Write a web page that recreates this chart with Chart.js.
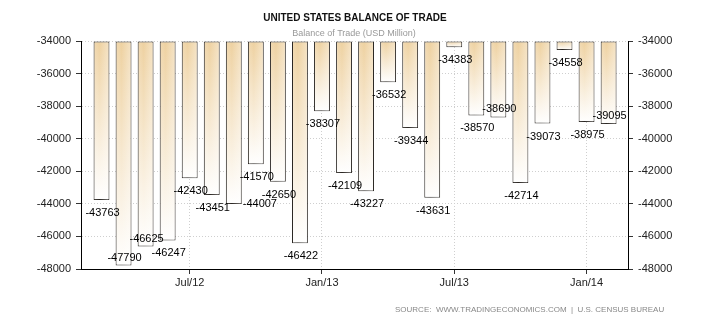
<!DOCTYPE html>
<html>
<head>
<meta charset="utf-8">
<script src="https://cdn.jsdelivr.net/npm/chart.js@4/dist/chart.umd.min.js"></script>
<style>
  body { margin: 0; background: #fff; }
  canvas { display: block; }
</style>
</head>
<body>
<canvas id="canvas" width="710" height="325"></canvas>
<script>
// months shown as bars (one per month)
var months = ['Mar/12','Apr/12','May/12','Jun/12','Jul/12','Aug/12','Sep/12','Oct/12','Nov/12','Dec/12',
              'Jan/13','Feb/13','Mar/13','Apr/13','May/13','Jun/13','Jul/13','Aug/13','Sep/13','Oct/13',
              'Nov/13','Dec/13','Jan/14','Feb/14'];
// balance of trade, USD million
var balance = [-43763,-47790,-46625,-46247,-42430,-43451,-44007,-41570,-42650,-46422,
               -38307,-42109,-43227,-36532,-39344,-43631,-34383,-38570,-38690,-42714,
               -39073,-34558,-38975,-39095];
// y axis range and tick step
var yMin = -48000;
var yMax = -34000;
var yStep = 2000;

var title = 'UNITED STATES BALANCE OF TRADE';
var subtitle = 'Balance of Trade (USD Million)';
var source = 'SOURCE:  WWW.TRADINGECONOMICS.COM  |  U.S. CENSUS BUREAU';

var FONT = '"Liberation Sans", Arial, sans-serif';

// where the value label sits for bars that would collide
var labelPlace = {1: 'over', 2: 'over', 6: 'right', 18: 'over', 23: 'over'};

// bar fill: tan at the top fading to white at the bar end
var barFill = (ctx) => {
    var chart = ctx.chart;
    if (!chart.chartArea || !chart.scales.y) return '#f0d8aa';
    var y = chart.scales.y;
    var top = y.getPixelForValue(yMax);
    var bottom = y.getPixelForValue(ctx.raw.y);
    if (bottom - top < 2) bottom = top + 2;
    var g = chart.ctx.createLinearGradient(0, top, 0, bottom);
    g.addColorStop(0, '#eed1a0');
    g.addColorStop(1, '#ffffff');
    return g;
};

var textPlugin = {
    id: 'texts',
    beforeDraw(chart) {
        var c = chart.ctx;
        c.save();
        c.fillStyle = '#fff';
        c.fillRect(0, 0, chart.width, chart.height);
        c.restore();
    },
    afterDatasetsDraw(chart) {
        var c = chart.ctx;
        var meta = chart.getDatasetMeta(0);
        c.save();
        // light sheen on the right side of each bar
        meta.data.forEach((bar) => {
            var l = bar.x - bar.width / 2 + 1, r = bar.x + bar.width / 2 - 1;
            var h = bar.y - bar.base - 1;
            if (h < 2 || r <= l) return;
            var g = c.createLinearGradient(l, 0, r, 0);
            g.addColorStop(0, 'rgba(255,255,255,0.15)');
            g.addColorStop(0.35, 'rgba(255,255,255,0)');
            g.addColorStop(1, 'rgba(255,255,255,0.35)');
            c.fillStyle = g;
            c.fillRect(l, bar.base + 1, r - l, h);
        });
        c.font = '11px ' + FONT;
        c.fillStyle = '#000';
        c.textBaseline = 'middle';
        meta.data.forEach((bar, i) => {
            var txt = String(balance[i]);
            var mode = labelPlace[i] || 'below';
            if (mode == 'right') {
                c.textAlign = 'left';
                c.fillText(txt, bar.x + bar.width / 2 + 1, bar.y);
            } else if (mode == 'over') {
                c.textAlign = 'center';
                c.fillText(txt, bar.x + 1, bar.y - 8);
            } else {
                c.textAlign = 'center';
                c.fillText(txt, bar.x + 1, bar.y + 13);
            }
        });
        c.restore();
    },
    afterDraw(chart) {
        var c = chart.ctx;
        c.save();
        c.textAlign = 'center';
        c.textBaseline = 'middle';
        c.fillStyle = '#111';
        c.font = 'bold 10px ' + FONT;
        c.fillText(title, 355, 18);
        c.fillStyle = '#999';
        c.font = '9px ' + FONT;
        c.fillText(subtitle, 354, 34);
        c.fillStyle = '#888';
        c.font = '8px ' + FONT;
        c.textAlign = 'left';
        c.fillText(source, 395, 310);
        c.restore();
    }
};

var yTickOpts = {
    stepSize: yStep,
    color: '#222',
    padding: 5,
    font: { family: FONT, size: 11 },
    callback: (v) => String(v)
};

config = {
    type: 'bar',
    data: {
        datasets: [{
            data: balance.map((v, i) => ({ x: i, y: v })),
            base: yMax,
            backgroundColor: barFill,
            borderColor: '#2a2622',
            borderWidth: 1,
            borderSkipped: false,
            categoryPercentage: 0.8,
            barPercentage: 0.9
        }]
    },
    options: {
        responsive: false,
        animation: false,
        layout: { padding: { top: 41, left: 0, right: 0, bottom: 0 } },
        plugins: {
            legend: { display: false },
            tooltip: { enabled: false },
            title: { display: false }
        },
        scales: {
            x: {
                type: 'linear',
                offset: false,
                min: -0.93,
                max: 23.88,
                afterBuildTicks: (scale) => {
                    scale.ticks = months
                        .map((m, i) => ({ m: m, value: i }))
                        .filter(t => t.m.indexOf('Jan') == 0 || t.m.indexOf('Jul') == 0)
                        .map(t => ({ value: t.value }));
                },
                afterFit: (scale) => { scale.height = 56; },
                ticks: {
                    color: '#222',
                    padding: 2,
                    maxRotation: 0,
                    autoSkip: false,
                    font: { family: FONT, size: 11 },
                    callback: (v) => months[v]
                },
                grid: {
                    offset: false,
                    color: '#cfcfcf',
                    tickColor: '#333',
                    tickLength: 5,
                    tickBorderDash: []
                },
                border: { color: '#000', width: 1, dash: [1, 2] }
            },
            y: {
                position: 'left',
                min: yMin,
                max: yMax,
                afterFit: (scale) => { scale.width = 81; },
                ticks: yTickOpts,
                grid: {
                    color: '#cfcfcf',
                    tickColor: '#333',
                    tickLength: 5,
                    tickBorderDash: []
                },
                border: { color: '#000', width: 1, dash: [1, 2] }
            },
            y2: {
                position: 'right',
                min: yMin,
                max: yMax,
                afterFit: (scale) => { scale.width = 82; },
                ticks: yTickOpts,
                grid: {
                    drawOnChartArea: false,
                    tickColor: '#333',
                    tickLength: 5
                },
                border: { color: '#000', width: 1 }
            }
        }
    },
    plugins: [textPlugin]
};

new Chart(document.getElementById('canvas'), config);
</script>
</body>
</html>
